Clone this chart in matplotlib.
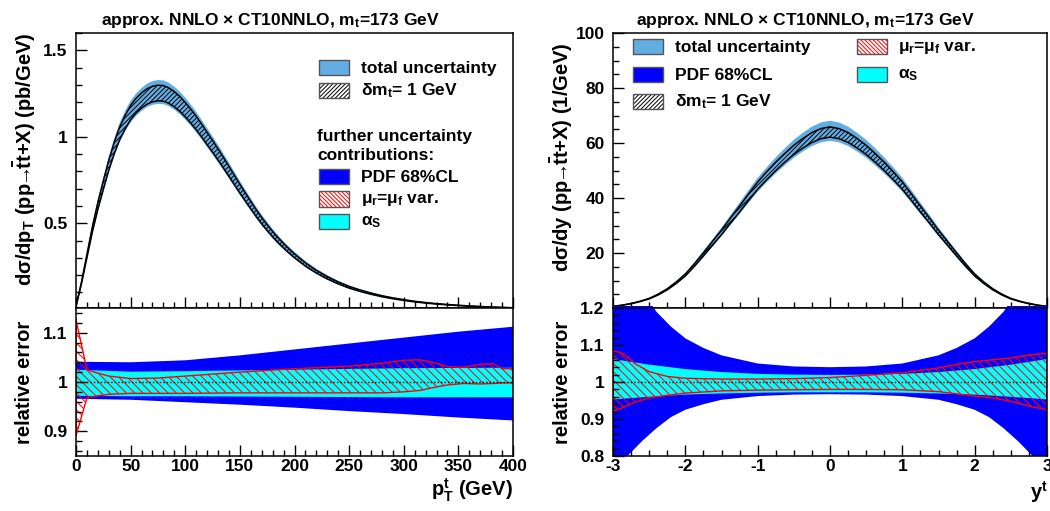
import numpy as np
import matplotlib
matplotlib.use('Agg')
import matplotlib.pyplot as plt
from matplotlib.patches import Rectangle
from matplotlib.ticker import MultipleLocator, FormatStrFormatter, FixedLocator

plt.rcParams['font.family'] = ['Liberation Sans', 'DejaVu Sans']
plt.rcParams['font.weight'] = 'bold'
plt.rcParams['mathtext.fontset'] = 'custom'
plt.rcParams['mathtext.rm'] = 'Liberation Sans:bold'
plt.rcParams['mathtext.it'] = 'Liberation Sans:bold'
plt.rcParams['mathtext.bf'] = 'Liberation Sans:bold'
plt.rcParams['mathtext.sf'] = 'Liberation Sans:bold'
plt.rcParams['axes.unicode_minus'] = False
plt.rcParams['hatch.linewidth'] = 0.7

# ---------------- data: pT distribution ----------------
pt = [0, 5, 10, 15, 20, 25, 30, 35, 40, 45, 50, 55, 60, 65, 70, 75, 80, 85, 90, 95,
      100, 105, 110, 115, 120, 125, 130, 135, 140, 145, 150, 155, 160, 165, 170, 175, 180, 185,
      190, 195, 200, 210, 220, 230, 240, 250, 260, 270, 280, 290, 300, 310, 320, 330, 340, 350,
      360, 370, 380, 390, 400]
dsig_dpt = [0.02, 0.155, 0.31, 0.465, 0.60, 0.72, 0.835, 0.935, 1.02, 1.085, 1.14, 1.18, 1.21,
            1.233, 1.247, 1.253, 1.251, 1.238, 1.217, 1.19, 1.157, 1.12, 1.08, 1.036, 0.99,
            0.945, 0.898, 0.85, 0.80, 0.75, 0.70, 0.652, 0.605, 0.558, 0.515, 0.475, 0.437,
            0.402, 0.37, 0.34, 0.312, 0.262, 0.22, 0.185, 0.155, 0.13, 0.11, 0.093, 0.078,
            0.066, 0.056, 0.047, 0.04, 0.034, 0.029, 0.025, 0.021, 0.018, 0.015, 0.013, 0.011]
pt_tot_up = [0.13, 0.09, 0.07, 0.065, 0.062, 0.06, 0.06, 0.06, 0.06, 0.06, 0.06, 0.06, 0.06,
             0.06, 0.06, 0.06, 0.06, 0.06, 0.06, 0.06, 0.06, 0.06, 0.06, 0.06, 0.061, 0.061,
             0.062, 0.062, 0.063, 0.063, 0.064, 0.064, 0.065, 0.065, 0.066, 0.067, 0.068, 0.069,
             0.07, 0.07, 0.071, 0.073, 0.075, 0.077, 0.079, 0.08, 0.082, 0.084, 0.087, 0.09,
             0.092, 0.094, 0.095, 0.097, 0.099, 0.1, 0.102, 0.104, 0.106, 0.108, 0.11]
pt_tot_dn = [0.12, 0.08, 0.06, 0.055, 0.052, 0.05, 0.05, 0.05, 0.05, 0.05, 0.05, 0.05, 0.05,
             0.05, 0.05, 0.05, 0.05, 0.05, 0.05, 0.05, 0.05, 0.05, 0.05, 0.05, 0.051, 0.051,
             0.052, 0.052, 0.053, 0.053, 0.054, 0.054, 0.055, 0.055, 0.056, 0.056, 0.057, 0.057,
             0.058, 0.059, 0.06, 0.061, 0.062, 0.063, 0.064, 0.065, 0.066, 0.067, 0.068, 0.069,
             0.07, 0.071, 0.072, 0.073, 0.074, 0.075, 0.076, 0.077, 0.078, 0.079, 0.08]
pt_mt_rel = [0.03, 0.03, 0.032, 0.033, 0.034, 0.035, 0.035, 0.035, 0.036, 0.036, 0.036, 0.036,
             0.036, 0.036, 0.036, 0.036, 0.036, 0.036, 0.036, 0.036, 0.036, 0.036, 0.036, 0.036,
             0.036, 0.036, 0.036, 0.036, 0.036, 0.036, 0.036, 0.036, 0.036, 0.036, 0.036, 0.036,
             0.036, 0.036, 0.036, 0.036, 0.036, 0.037, 0.037, 0.037, 0.037, 0.037, 0.038, 0.038,
             0.038, 0.038, 0.038, 0.039, 0.039, 0.039, 0.04, 0.04, 0.04, 0.04, 0.04, 0.04, 0.04]

pt_pdf = [0, 50, 100, 150, 200, 250, 300, 350, 400]
pdf_up_pt = [1.041, 1.040, 1.044, 1.054, 1.066, 1.078, 1.090, 1.102, 1.112]
pdf_dn_pt = [0.966, 0.964, 0.959, 0.954, 0.948, 0.941, 0.935, 0.928, 0.922]
pt_as = [0, 50, 100, 200, 300, 400]
as_up_pt = [1.025, 1.021, 1.022, 1.025, 1.028, 1.029]
as_dn_pt = [0.972, 0.971, 0.971, 0.970, 0.969, 0.969]
pt_sc = [0, 10, 20, 30, 50, 75, 100, 150, 200, 250, 280, 300, 315, 330, 340, 355, 370, 382, 390, 400]
sc_up_pt = [1.126, 1.025, 1.018, 1.012, 1.007, 1.008, 1.012, 1.02, 1.027, 1.032, 1.038, 1.044,
            1.045, 1.038, 1.031, 1.03, 1.036, 1.037, 1.027, 1.027]
sc_dn_pt = [0.891, 0.968, 0.972, 0.975, 0.977, 0.977, 0.977, 0.978, 0.978, 0.978, 0.978, 0.98,
            0.983, 0.99, 0.994, 0.997, 0.996, 0.997, 0.998, 0.998]

# ---------------- data: rapidity distribution ----------------
yr = [-3.0, -2.875, -2.75, -2.625, -2.5, -2.375, -2.25, -2.125, -2.0, -1.875, -1.75, -1.625,
      -1.5, -1.375, -1.25, -1.125, -1.0, -0.875, -0.75, -0.625, -0.5, -0.375, -0.25, -0.125,
      0.0, 0.125, 0.25, 0.375, 0.5, 0.625, 0.75, 0.875, 1.0, 1.125, 1.25, 1.375, 1.5, 1.625,
      1.75, 1.875, 2.0, 2.125, 2.25, 2.375, 2.5, 2.625, 2.75, 2.875, 3.0]
dsig_dy = [0.6, 1.0, 1.6, 2.4, 3.4, 4.9, 6.8, 9.2, 12.0, 15.6, 19.5, 23.5, 27.5, 31.8, 36.0,
           40.3, 44.5, 48.1, 51.5, 54.6, 57.5, 59.9, 62.0, 63.4, 64.0, 63.4, 62.0, 59.9, 57.5,
           54.6, 51.5, 48.1, 44.5, 40.3, 36.0, 31.8, 27.5, 23.5, 19.5, 15.6, 12.0, 9.2, 6.8,
           4.9, 3.4, 2.4, 1.6, 1.0, 0.6]
y_tot_up = [0.07, 0.069, 0.068, 0.067, 0.066, 0.066, 0.065, 0.065, 0.064, 0.064, 0.064, 0.064,
            0.064, 0.064, 0.064, 0.064, 0.064, 0.064, 0.064, 0.064, 0.064, 0.064, 0.064, 0.064,
            0.064, 0.064, 0.064, 0.064, 0.064, 0.064, 0.064, 0.064, 0.064, 0.064, 0.064, 0.064,
            0.064, 0.064, 0.064, 0.064, 0.064, 0.065, 0.065, 0.066, 0.066, 0.067, 0.068, 0.069, 0.07]
y_tot_dn = [0.06, 0.059, 0.058, 0.056, 0.055, 0.054, 0.053, 0.052, 0.052, 0.051, 0.051, 0.05,
            0.05, 0.05, 0.05, 0.05, 0.05, 0.05, 0.05, 0.05, 0.05, 0.05, 0.05, 0.05,
            0.05, 0.05, 0.05, 0.05, 0.05, 0.05, 0.05, 0.05, 0.05, 0.05, 0.05, 0.05,
            0.05, 0.05, 0.051, 0.051, 0.052, 0.052, 0.053, 0.054, 0.055, 0.056, 0.058, 0.059, 0.06]
y_mt_rel = [0.03, 0.03, 0.03, 0.03, 0.03, 0.03, 0.03, 0.03, 0.03, 0.03, 0.03, 0.03,
            0.03, 0.03, 0.03, 0.03, 0.03, 0.03, 0.03, 0.029, 0.029, 0.029, 0.029, 0.029,
            0.029, 0.029, 0.029, 0.029, 0.029, 0.029, 0.03, 0.03, 0.03, 0.03, 0.03, 0.03,
            0.03, 0.03, 0.03, 0.03, 0.03, 0.03, 0.03, 0.03, 0.03, 0.03, 0.03, 0.03, 0.03]

y_pdf = [-3, -2.8, -2.6, -2.4, -2.2, -2, -1.75, -1.5, -1, -0.5, 0, 0.5, 1, 1.5, 1.75, 2, 2.2,
         2.4, 2.6, 2.8, 3]
pdf_up_y = [1.35, 1.3, 1.25, 1.19, 1.15, 1.118, 1.092, 1.072, 1.05, 1.042, 1.04, 1.042, 1.05,
            1.072, 1.092, 1.118, 1.15, 1.19, 1.25, 1.3, 1.35]
pdf_dn_y = [0.76, 0.8, 0.84, 0.875, 0.905, 0.925, 0.94, 0.952, 0.962, 0.966, 0.967, 0.966, 0.962,
            0.952, 0.94, 0.925, 0.905, 0.875, 0.84, 0.8, 0.76]
y_as = [-3, -2.5, -2, -1.5, -1, -0.5, 0, 0.5, 1, 1.5, 2, 2.5, 3]
as_up_y = [1.062, 1.047, 1.035, 1.027, 1.022, 1.02, 1.019, 1.02, 1.022, 1.027, 1.035, 1.047, 1.062]
as_dn_y = [0.953, 0.96, 0.966, 0.969, 0.971, 0.972, 0.972, 0.972, 0.971, 0.969, 0.966, 0.96, 0.953]
y_sc = [-3, -2.9, -2.8, -2.7, -2.5, -2.25, -2, -1.5, -1, -0.5, 0, 0.5, 1, 1.5, 1.75, 2, 2.25,
        2.5, 2.75, 3]
sc_up_y = [1.083, 1.08, 1.068, 1.05, 1.028, 1.015, 1.01, 1.008, 1.008, 1.009, 1.012, 1.018, 1.025,
           1.038, 1.048, 1.055, 1.06, 1.065, 1.073, 1.078]
sc_dn_y = [0.921, 0.928, 0.937, 0.945, 0.957, 0.964, 0.97, 0.976, 0.978, 0.979, 0.98, 0.98, 0.979,
           0.974, 0.968, 0.962, 0.957, 0.948, 0.935, 0.925]

title_txt = r'approx. NNLO $\times$ CT10NNLO, m$_{\mathrm{t}}$=173 GeV'

C_TOT = '#62aee3'
C_PDF = '#0000ff'
C_AS = '#00ffff'
C_SC = '#ff0000'

W, H = 1050, 511
fig = plt.figure(figsize=(W / 100, H / 100), dpi=100)


def ax_px(x0, y0, x1, y1):
    return fig.add_axes([x0 / W, 1 - y1 / H, (x1 - x0) / W, (y1 - y0) / H])


def ftext(x, y, s, **kw):
    return fig.text(x / W, 1 - y / H, s, **kw)


def style(ax, labelbottom=True):
    ax.tick_params(which='both', direction='in', top=False, right=False,
                   labelsize=12.5, width=1.0, pad=6)
    ax.tick_params(which='major', length=8)
    ax.tick_params(which='minor', length=4)
    ax.tick_params(axis='x', pad=2, labelbottom=labelbottom)
    for s in ax.spines.values():
        s.set_linewidth(1.1)
    for lab in ax.get_xticklabels() + ax.get_yticklabels():
        lab.set_fontweight('bold')


def upper(ax, x, c, tu, td, mr, hatch):
    x = np.asarray(x); c = np.asarray(c)
    ax.fill_between(x, c * (1 - np.asarray(td)), c * (1 + np.asarray(tu)),
                    facecolor=C_TOT, edgecolor='none', lw=0)
    lo = c * (1 - np.asarray(mr)); hi = c * (1 + np.asarray(mr))
    ax.fill_between(x, lo, hi, facecolor='none', edgecolor='black', hatch=hatch, lw=0)
    ax.plot(x, lo, color='black', lw=1.1)
    ax.plot(x, hi, color='black', lw=1.1)


def lower(ax, xp, pu, pd, xa, au, ad, xs, su, sd, xlim, pdf_clip=False):
    f = ax.fill_between(xp, pd, pu, facecolor=C_PDF, edgecolor='none', lw=0)
    if pdf_clip:
        f.set_clip_path(Rectangle((0, 0), 1, 1.015, transform=ax.transAxes))
    ax.fill_between(xa, ad, au, facecolor=C_AS, edgecolor='none', lw=0)
    ax.fill_between(xs, sd, su, facecolor='none', edgecolor=C_SC, hatch='\\' * 4, lw=0)
    xs_c = list(xs) + list(xs[::-1]) + [xs[0]]
    ys_c = list(su) + list(sd[::-1]) + [su[0]]
    ax.plot(xs_c, ys_c, color=C_SC, lw=1.0)
    ax.plot(xlim, [1, 1], color='black', lw=1.0, ls=(0, (1, 1.5)))


# ---------------- left panel ----------------
ax1 = ax_px(76, 33, 513, 308)
ax2 = ax_px(76, 308, 513, 456)
upper(ax1, pt, dsig_dpt, pt_tot_up, pt_tot_dn, pt_mt_rel, '/' * 7)
ax1.set_xlim(0, 400); ax1.set_ylim(0.01, 1.6)
ax1.xaxis.set_major_locator(MultipleLocator(50)); ax1.xaxis.set_minor_locator(MultipleLocator(10))
ax1.yaxis.set_major_locator(FixedLocator([0.5, 1.0, 1.5])); ax1.yaxis.set_minor_locator(MultipleLocator(0.1))
ax1.yaxis.set_major_formatter(FormatStrFormatter('%g'))
style(ax1, labelbottom=False)

lower(ax2, pt_pdf, pdf_up_pt, pdf_dn_pt, pt_as, as_up_pt, as_dn_pt, pt_sc, sc_up_pt, sc_dn_pt, [0, 400])
ax2.set_xlim(0, 400); ax2.set_ylim(0.85, 1.15)
ax2.xaxis.set_major_locator(MultipleLocator(50)); ax2.xaxis.set_minor_locator(MultipleLocator(10))
ax2.yaxis.set_major_locator(FixedLocator([0.9, 1.0, 1.1])); ax2.yaxis.set_minor_locator(MultipleLocator(0.02))
ax2.yaxis.set_major_formatter(FormatStrFormatter('%g'))
style(ax2)

# ---------------- right panel ----------------
ax3 = ax_px(613, 33, 1047, 308)
ax4 = ax_px(613, 308, 1047, 456)
upper(ax3, yr, dsig_dy, y_tot_up, y_tot_dn, y_mt_rel, '/' * 7)
ax3.set_xlim(-3, 3); ax3.set_ylim(0, 100)
ax3.xaxis.set_major_locator(MultipleLocator(1)); ax3.xaxis.set_minor_locator(MultipleLocator(0.25))
ax3.yaxis.set_major_locator(FixedLocator([20, 40, 60, 80, 100])); ax3.yaxis.set_minor_locator(MultipleLocator(5))
style(ax3, labelbottom=False)

lower(ax4, y_pdf, pdf_up_y, pdf_dn_y, y_as, as_up_y, as_dn_y, y_sc, sc_up_y, sc_dn_y, [-3, 3], pdf_clip=True)
ax4.set_xlim(-3, 3); ax4.set_ylim(0.8, 1.2)
ax4.xaxis.set_major_locator(MultipleLocator(1)); ax4.xaxis.set_minor_locator(MultipleLocator(0.25))
ax4.xaxis.set_major_formatter(FormatStrFormatter('%g'))
ax4.yaxis.set_major_locator(FixedLocator([0.8, 0.9, 1.0, 1.1, 1.2])); ax4.yaxis.set_minor_locator(MultipleLocator(0.02))
ax4.yaxis.set_major_formatter(FormatStrFormatter('%g'))
style(ax4)

# ---------------- texts ----------------
ftext(270, 20, title_txt, ha='center', va='center', fontsize=12.5, fontweight='bold')
ftext(805, 20, title_txt, ha='center', va='center', fontsize=12.5, fontweight='bold')
ftext(25, 32, r'd$\sigma$/dp$_{\mathrm{T}}$ (pp$\!\!\rightarrow\!\!\bar{\mathrm{t}}$t+X) (pb/GeV)',
      rotation=90, ha='center', va='top', fontsize=14.5, fontweight='bold')
ftext(25, 382, 'relative error', rotation=90, ha='center', va='center', fontsize=14.5, fontweight='bold')
ftext(562, 42, r'd$\sigma$/dy (pp$\!\!\rightarrow\!\!\bar{\mathrm{t}}$t+X) (1/GeV)',
      rotation=90, ha='center', va='top', fontsize=14.5, fontweight='bold')
ftext(562, 382, 'relative error', rotation=90, ha='center', va='center', fontsize=14.5, fontweight='bold')
ftext(513, 490, r'p$^{\mathrm{t}}_{\mathrm{T}}$ (GeV)', ha='right', va='center', fontsize=14.5, fontweight='bold')
ftext(1048, 492, r'y$^{\mathrm{t}}$', ha='right', va='center', fontsize=14.5, fontweight='bold')


# ---------------- legends ----------------
def leg_box(x, y, kind):
    w, h = 30, 15
    xy = (x / W, 1 - (y + h / 2) / H)
    ww, hh = w / W, h / H
    if kind == 'tot':
        fig.patches.append(Rectangle(xy, ww, hh, transform=fig.transFigure, facecolor=C_TOT, edgecolor='none'))
    elif kind == 'pdf':
        fig.patches.append(Rectangle(xy, ww, hh, transform=fig.transFigure, facecolor=C_PDF, edgecolor='none'))
    elif kind == 'as':
        fig.patches.append(Rectangle(xy, ww, hh, transform=fig.transFigure, facecolor=C_AS, edgecolor='none'))
    elif kind == 'mt':
        fig.patches.append(Rectangle(xy, ww, hh, transform=fig.transFigure, facecolor='white',
                                     edgecolor='black', hatch='/' * 8, lw=0))
    elif kind == 'sc':
        fig.patches.append(Rectangle(xy, ww, hh, transform=fig.transFigure, facecolor='white',
                                     edgecolor=C_SC, hatch='\\' * 8, lw=0))
    fig.patches.append(Rectangle(xy, ww, hh, transform=fig.transFigure, fill=False,
                                 edgecolor='#555555', lw=1.0))


lab_tot = 'total uncertainty'
lab_mt = r'$\delta$m$_{\mathrm{t}}$= 1 GeV'
lab_pdf = 'PDF 68%CL'
lab_sc = r'$\mu_{\mathrm{r}}$=$\mu_{\mathrm{f}}$ var.'
lab_as = r'$\alpha_{\mathrm{S}}$'

LFS = 12.5
for (yy, kind, lab) in [(68, 'tot', lab_tot), (91, 'mt', lab_mt), (177, 'pdf', lab_pdf),
                        (199, 'sc', lab_sc), (222, 'as', lab_as)]:
    leg_box(319, yy, kind)
    ftext(361, yy, lab, ha='left', va='center', fontsize=LFS, fontweight='bold')
ftext(317, 137, 'further uncertainty', ha='left', va='center', fontsize=LFS, fontweight='bold')
ftext(317, 155, 'contributions:', ha='left', va='center', fontsize=LFS, fontweight='bold')

for (xx, xt, yy, kind, lab) in [(633, 675, 47, 'tot', lab_tot), (633, 675, 75, 'pdf', lab_pdf),
                                (633, 675, 102, 'mt', lab_mt), (857, 898, 47, 'sc', lab_sc),
                                (857, 898, 75, 'as', lab_as)]:
    leg_box(xx, yy, kind)
    ftext(xt, yy, lab, ha='left', va='center', fontsize=LFS, fontweight='bold')

fig.savefig('out.png', dpi=100)
